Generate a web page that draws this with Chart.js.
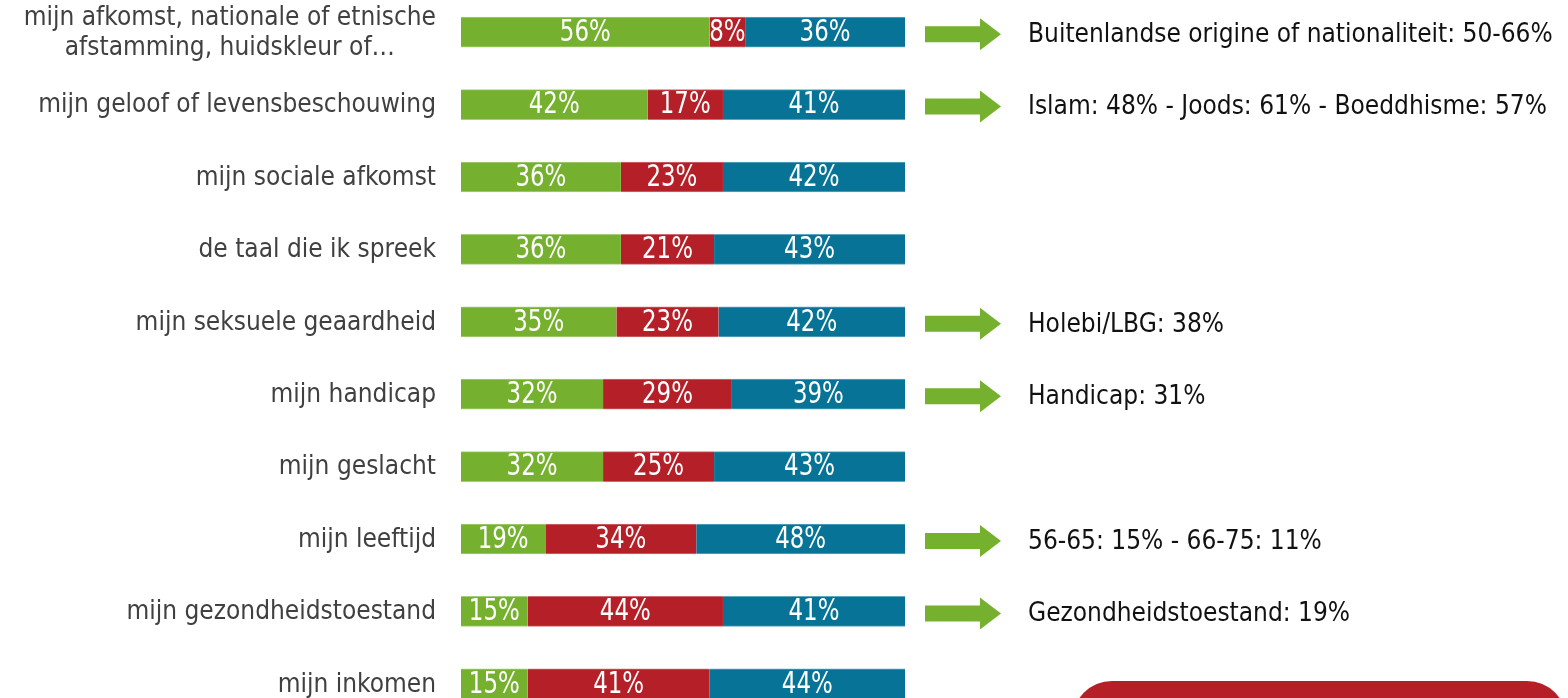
<!DOCTYPE html>
<html>
<head>
<meta charset="utf-8">
<script src="https://cdn.jsdelivr.net/npm/chart.js@4"></script>
<style>
  html, body { margin: 0; padding: 0; background: #fff; overflow: hidden; }
  #wrap { position: absolute; left: 0; top: -4px; width: 1568px; height: 724px; }
</style>
</head>
<body>
<div id="wrap"><canvas id="bars"></canvas></div>
<script>
const categories = [
  ['mijn afkomst, nationale of etnische', 'afstamming, huidskleur of…'],
  'mijn geloof of levensbeschouwing',
  'mijn sociale afkomst',
  'de taal die ik spreek',
  'mijn seksuele geaardheid',
  'mijn handicap',
  'mijn geslacht',
  'mijn leeftijd',
  'mijn gezondheidstoestand',
  'mijn inkomen'
];
const greenVals = [56, 42, 36, 36, 35, 32, 32, 19, 15, 15];
const redVals   = [8, 17, 23, 21, 23, 29, 25, 34, 44, 41];
const blueVals  = [36, 41, 42, 43, 42, 39, 43, 48, 41, 44];
const notes = [
  'Buitenlandse origine of nationaliteit: 50-66%',
  'Islam: 48% - Joods: 61% - Boeddhisme: 57%',
  null,
  null,
  'Holebi/LBG: 38%',
  'Handicap: 31%',
  null,
  '56-65: 15% - 66-75: 11%',
  'Gezondheidstoestand: 19%',
  null
];

const GREEN = '#75b12f', RED = '#b52028', BLUE = '#077396';
const LABEL_FONT = '26px "DejaVu Sans Condensed", "DejaVu Sans", sans-serif';
const VALUE_FONT = '30px "DejaVu Sans Condensed", sans-serif';

// category labels left of the bars; wrapped lines are centred on each other
const categoryLabels = {
  id: 'categoryLabels',
  afterDraw(chart) {
    const { ctx, chartArea } = chart;
    const y = chart.scales.y;
    const right = chartArea.left - 25;
    ctx.save();
    ctx.font = LABEL_FONT;
    ctx.fillStyle = '#404040';
    ctx.textBaseline = 'middle';
    ctx.textAlign = 'center';
    categories.forEach((c, i) => {
      const lines = Array.isArray(c) ? c : [c];
      const w = Math.max(...lines.map(l => ctx.measureText(l).width));
      const cy = y.getPixelForValue(i) + 1;
      const lh = 30;
      lines.forEach((l, k) => {
        ctx.fillText(l, right - w / 2, cy + (k - (lines.length - 1) / 2) * lh);
      });
    });
    ctx.restore();
  }
};

// percentage inside every segment, in a narrowed face
const segmentValues = {
  id: 'segmentValues',
  afterDatasetsDraw(chart) {
    const { ctx } = chart;
    ctx.save();
    ctx.font = VALUE_FONT;
    ctx.fillStyle = '#fff';
    ctx.textAlign = 'center';
    ctx.textBaseline = 'middle';
    chart.data.datasets.forEach((ds, di) => {
      chart.getDatasetMeta(di).data.forEach((bar, i) => {
        const cx = Math.min((bar.x + bar.base) / 2, (chart.chartArea.right + bar.base) / 2);
        ctx.save();
        ctx.translate(cx, bar.y + 1);
        ctx.scale(0.85, 1);
        ctx.fillText(ds.data[i] + '%', 0, 0);
        ctx.restore();
      });
    });
    ctx.restore();
  }
};

// green arrows with a remark for some rows, plus the red panel
const sideNotes = {
  id: 'sideNotes',
  afterDraw(chart) {
    const { ctx, chartArea } = chart;
    const y = chart.scales.y;
    ctx.save();
    notes.forEach((n, i) => {
      if (!n) return;
      const cy = y.getPixelForValue(i) + 2;
      const x0 = chartArea.right + 20, x1 = x0 + 55, x2 = x0 + 76;
      ctx.fillStyle = GREEN;
      ctx.beginPath();
      ctx.moveTo(x0, cy - 8);
      ctx.lineTo(x1, cy - 8);
      ctx.lineTo(x1, cy - 16);
      ctx.lineTo(x2, cy);
      ctx.lineTo(x1, cy + 16);
      ctx.lineTo(x1, cy + 8);
      ctx.lineTo(x0, cy + 8);
      ctx.closePath();
      ctx.fill();
      ctx.font = LABEL_FONT;
      ctx.fillStyle = '#111';
      ctx.textAlign = 'left';
      ctx.textBaseline = 'middle';
      ctx.fillText(n, chartArea.right + 123, cy + 1);
    });
    ctx.fillStyle = RED;
    ctx.beginPath();
    ctx.roundRect(1072, 685, 495, 100, 40);
    ctx.fill();
    ctx.restore();
  }
};

const edge = { top: 1, bottom: 1, left: 0, right: 0 };

new Chart(document.getElementById('bars'), {
  type: 'bar',
  data: {
    labels: categories,
    datasets: [
      { data: greenVals, backgroundColor: GREEN, borderColor: '#a6cf7c', borderWidth: edge, borderSkipped: false, barThickness: 30 },
      { data: redVals, backgroundColor: RED, borderColor: '#cf6b70', borderWidth: edge, borderSkipped: false, barThickness: 30 },
      { data: blueVals, backgroundColor: BLUE, borderColor: '#5ea7c0', borderWidth: edge, borderSkipped: false, barThickness: 30 }
    ]
  },
  options: {
    indexAxis: 'y',
    responsive: true,
    maintainAspectRatio: false,
    animation: false,
    layout: { padding: { left: 461, right: 663, top: 0, bottom: 0 } },
    plugins: {
      legend: { display: false },
      tooltip: { enabled: false }
    },
    scales: {
      x: { stacked: true, min: 0, max: 100, display: false },
      y: { stacked: true, display: false }
    }
  },
  plugins: [categoryLabels, segmentValues, sideNotes]
});
</script>
</body>
</html>
